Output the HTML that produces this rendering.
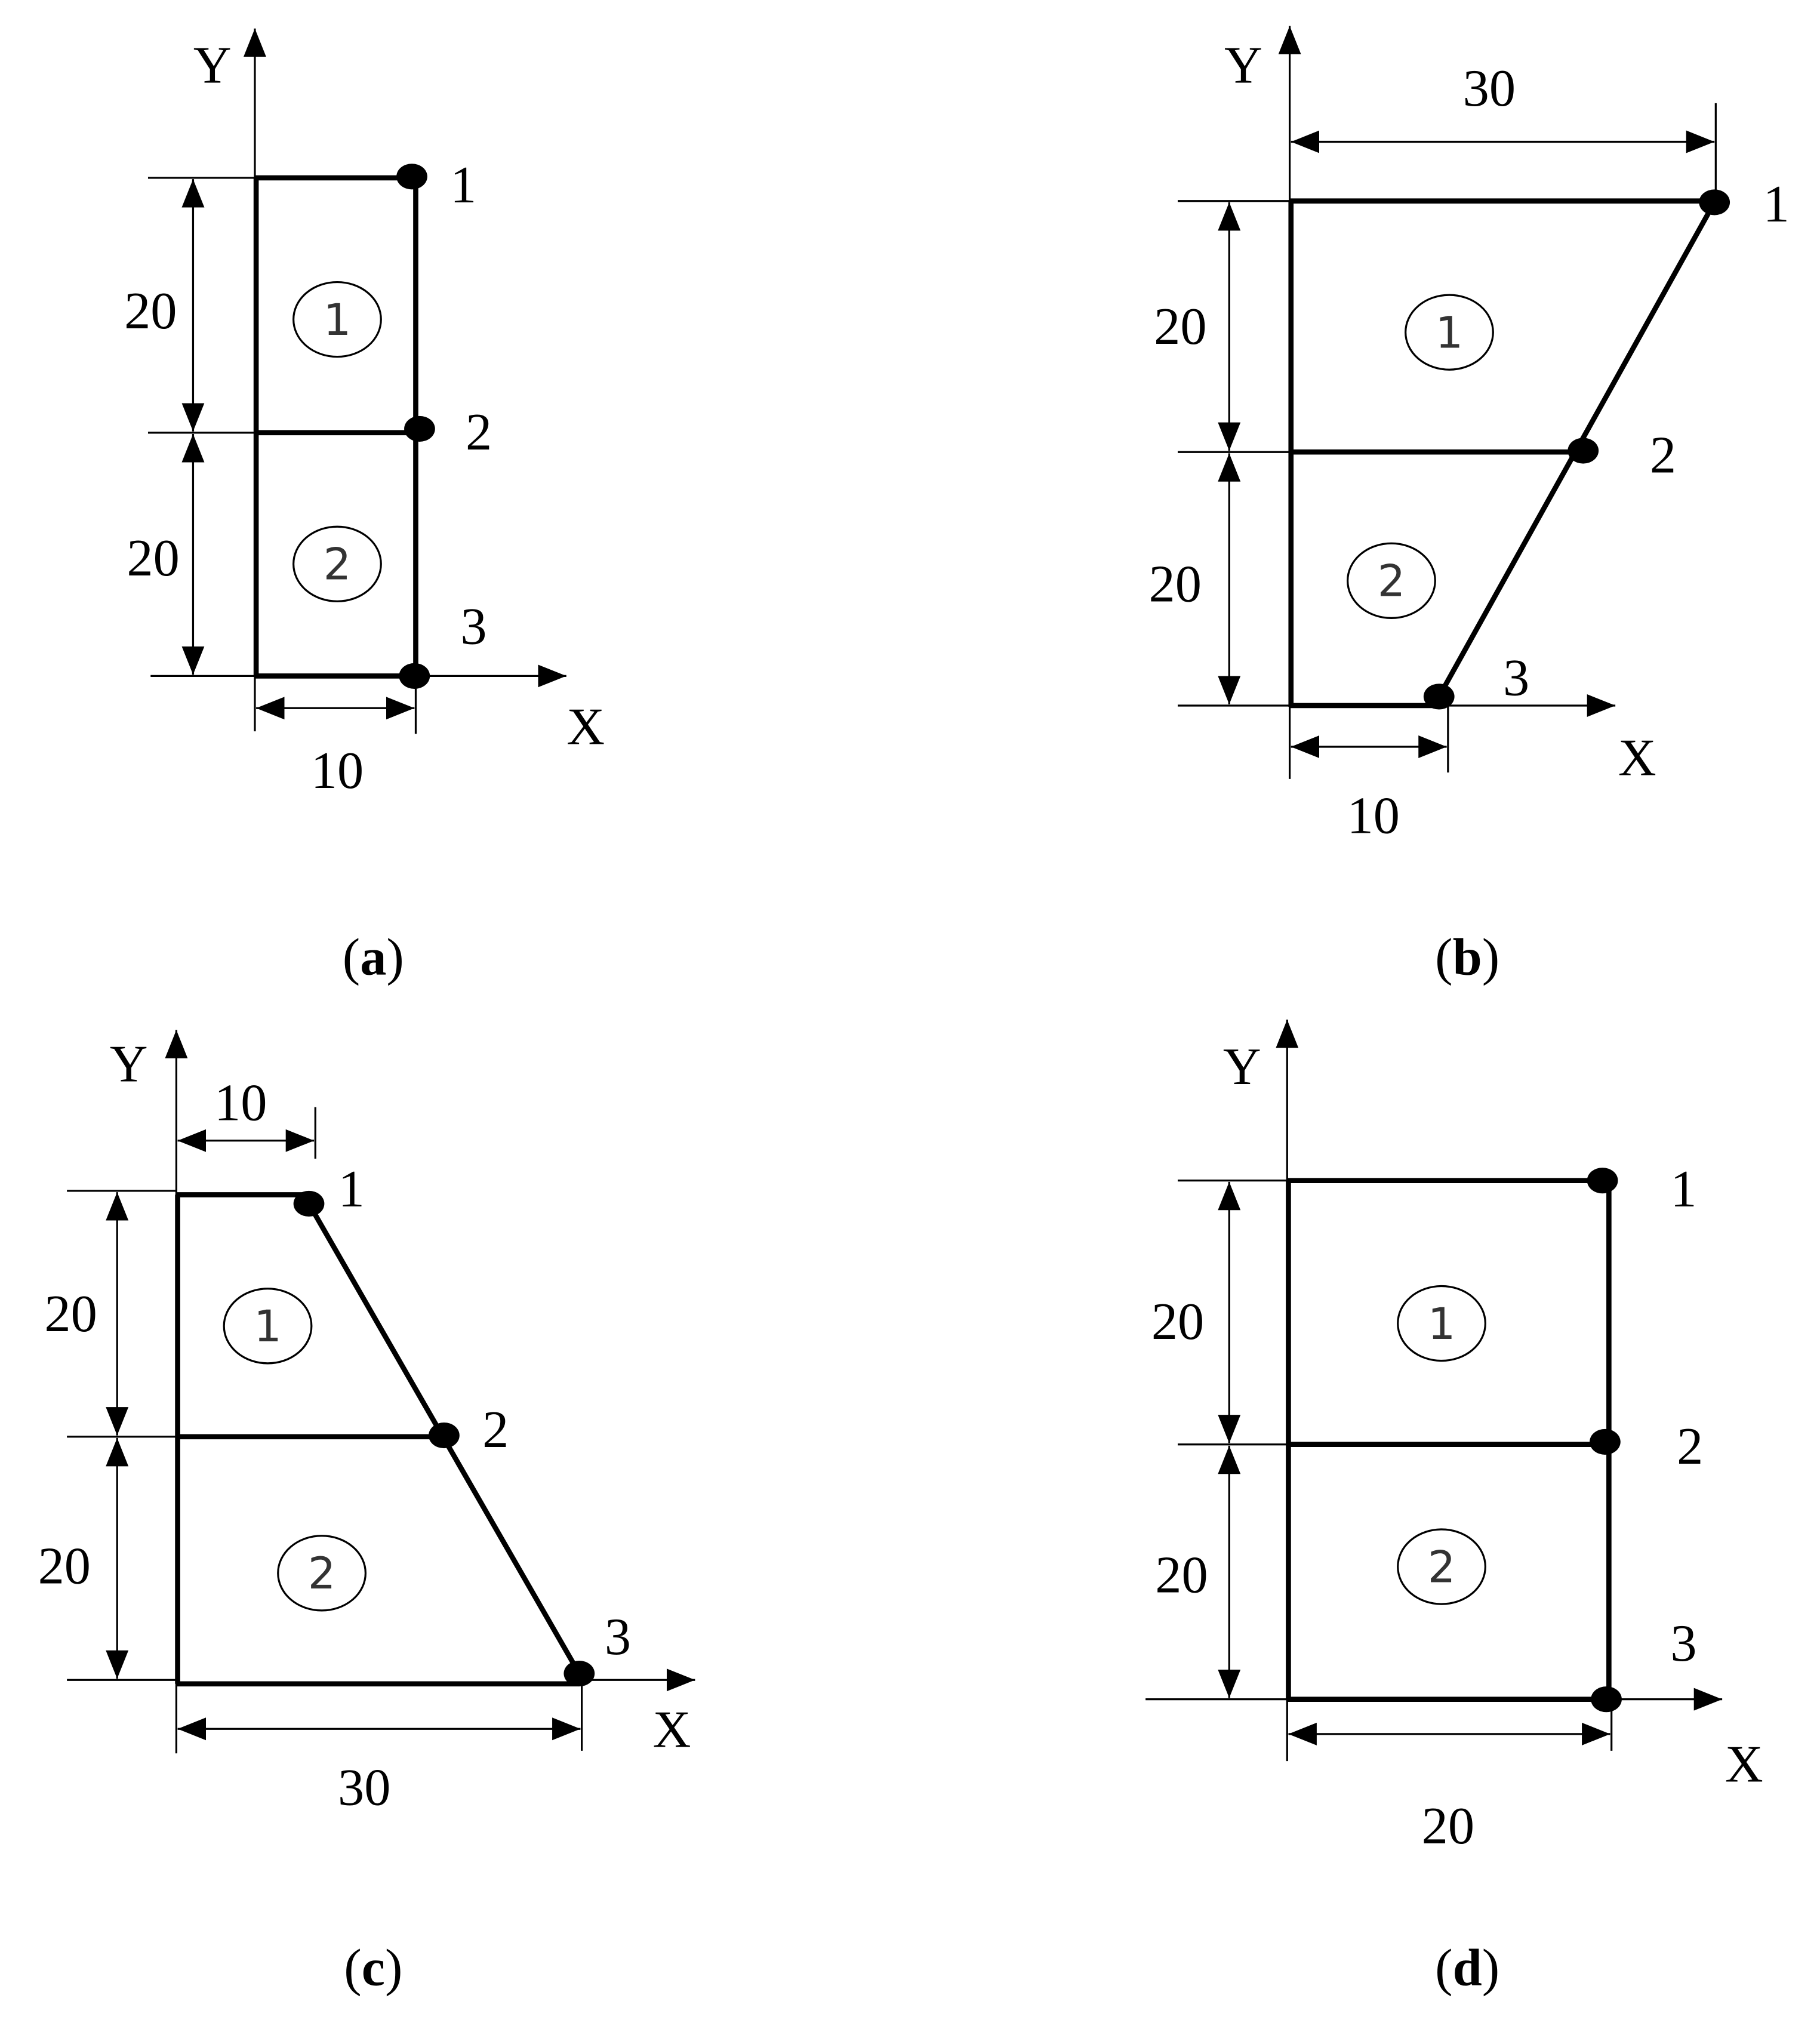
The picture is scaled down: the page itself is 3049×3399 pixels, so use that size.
<!DOCTYPE html>
<html><head><meta charset="utf-8"><style>
html,body{margin:0;padding:0;background:#fff;}
svg{display:block;}
text{font-family:"Liberation Serif",serif;fill:#000;}
.t{font-size:41px;text-anchor:middle;}
.c{font-size:34px;text-anchor:middle;fill:#333;font-family:"DejaVu Sans","Liberation Sans",sans-serif;}
</style></head><body>
<svg width="3049" height="3399" viewBox="0 0 1414 1576" xmlns="http://www.w3.org/2000/svg">
<defs>
<marker id="ar" viewBox="0 0 10 10" refX="10" refY="5" markerWidth="22" markerHeight="22" markerUnits="userSpaceOnUse" orient="auto-start-reverse"><path d="M0,1 L10,5 L0,9 z" fill="#000"/></marker>
</defs>
<g stroke="#000" fill="none">
<!-- (a) -->
<g stroke-width="1.5">
<line x1="198" y1="568" x2="198" y2="22" marker-end="url(#ar)"/>
<line x1="322" y1="525" x2="440" y2="525" marker-end="url(#ar)"/>
<line x1="115" y1="138" x2="198" y2="138"/><line x1="115" y1="336" x2="198" y2="336"/><line x1="117" y1="525" x2="198" y2="525"/>
<line x1="150" y1="139" x2="150" y2="335" marker-start="url(#ar)" marker-end="url(#ar)"/>
<line x1="150" y1="337" x2="150" y2="524" marker-start="url(#ar)" marker-end="url(#ar)"/>
<line x1="323" y1="525" x2="323" y2="570"/>
<line x1="199" y1="550" x2="322" y2="550" marker-start="url(#ar)" marker-end="url(#ar)"/>
</g>
<g stroke-width="4">
<path d="M198,138 H320 M323,137 V525 M198,336 H323 M198,525 H322 M199,138 V525"/>
</g>
<ellipse cx="262" cy="248" rx="34" ry="29" stroke-width="1.5"/>
<ellipse cx="262" cy="438" rx="34" ry="29" stroke-width="1.5"/>
<!-- (b) -->
<g stroke-width="1.5">
<line x1="1002" y1="605" x2="1002" y2="20" marker-end="url(#ar)"/>
<line x1="1118" y1="548" x2="1255" y2="548" marker-end="url(#ar)"/>
<line x1="1333" y1="80" x2="1333" y2="150"/>
<line x1="1003" y1="110" x2="1332" y2="110" marker-start="url(#ar)" marker-end="url(#ar)"/>
<line x1="915" y1="156" x2="1002" y2="156"/><line x1="915" y1="351" x2="1002" y2="351"/><line x1="915" y1="548" x2="1002" y2="548"/>
<line x1="955" y1="157" x2="955" y2="350" marker-start="url(#ar)" marker-end="url(#ar)"/>
<line x1="955" y1="352" x2="955" y2="547" marker-start="url(#ar)" marker-end="url(#ar)"/>
<line x1="1125" y1="548" x2="1125" y2="600"/>
<line x1="1003" y1="580" x2="1124" y2="580" marker-start="url(#ar)" marker-end="url(#ar)"/>
</g>
<g stroke-width="4">
<path d="M1003,156 V549 M1002,156 H1333 M1332,157 L1118,541 M1002,351 H1230 M1002,548 H1118"/>
</g>
<ellipse cx="1126" cy="258" rx="34" ry="29" stroke-width="1.5"/>
<ellipse cx="1081" cy="451" rx="34" ry="29" stroke-width="1.5"/>
<!-- (c) -->
<g stroke-width="1.5">
<line x1="137" y1="1362" x2="137" y2="800" marker-end="url(#ar)"/>
<line x1="450" y1="1305" x2="540" y2="1305" marker-end="url(#ar)"/>
<line x1="245" y1="860" x2="245" y2="900"/>
<line x1="138" y1="886" x2="244" y2="886" marker-start="url(#ar)" marker-end="url(#ar)"/>
<line x1="52" y1="925" x2="137" y2="925"/><line x1="52" y1="1116" x2="137" y2="1116"/><line x1="52" y1="1305" x2="137" y2="1305"/>
<line x1="91" y1="926" x2="91" y2="1115" marker-start="url(#ar)" marker-end="url(#ar)"/>
<line x1="91" y1="1117" x2="91" y2="1304" marker-start="url(#ar)" marker-end="url(#ar)"/>
<line x1="452" y1="1305" x2="452" y2="1360"/>
<line x1="138" y1="1343" x2="451" y2="1343" marker-start="url(#ar)" marker-end="url(#ar)"/>
</g>
<g stroke-width="4">
<path d="M138,928 V1308 M137,928 H240 M240,935 L450,1300 M137,1116 H345 M137,1308 H450"/>
</g>
<ellipse cx="208" cy="1030" rx="34" ry="29" stroke-width="1.5"/>
<ellipse cx="250" cy="1222" rx="34" ry="29" stroke-width="1.5"/>
<!-- (d) -->
<g stroke-width="1.5">
<line x1="1000" y1="1368" x2="1000" y2="792" marker-end="url(#ar)"/>
<line x1="1248" y1="1320" x2="1338" y2="1320" marker-end="url(#ar)"/>
<line x1="915" y1="917" x2="1000" y2="917"/><line x1="915" y1="1122" x2="1000" y2="1122"/><line x1="890" y1="1320" x2="1000" y2="1320"/>
<line x1="955" y1="918" x2="955" y2="1121" marker-start="url(#ar)" marker-end="url(#ar)"/>
<line x1="955" y1="1123" x2="955" y2="1319" marker-start="url(#ar)" marker-end="url(#ar)"/>
<line x1="1252" y1="1320" x2="1252" y2="1360"/>
<line x1="1001" y1="1347" x2="1251" y2="1347" marker-start="url(#ar)" marker-end="url(#ar)"/>
</g>
<g stroke-width="4">
<path d="M1001,917 V1320 M1000,917 H1245 M1250,917 V1320 M1000,1122 H1247 M1000,1320 H1248"/>
</g>
<ellipse cx="1120" cy="1028" rx="34" ry="29" stroke-width="1.5"/>
<ellipse cx="1120" cy="1217" rx="34" ry="29" stroke-width="1.5"/>
</g>
<!-- nodes -->
<g fill="#000">
<ellipse cx="320" cy="137" rx="12" ry="10"/><ellipse cx="326" cy="333" rx="12" ry="10"/><ellipse cx="322" cy="525" rx="12" ry="10"/>
<ellipse cx="1332" cy="157" rx="12" ry="10"/><ellipse cx="1230" cy="350" rx="12" ry="10"/><ellipse cx="1118" cy="541" rx="12" ry="10"/>
<ellipse cx="240" cy="935" rx="12" ry="10"/><ellipse cx="345" cy="1115" rx="12" ry="10"/><ellipse cx="450" cy="1300" rx="12" ry="10"/>
<ellipse cx="1245" cy="917" rx="12" ry="10"/><ellipse cx="1247" cy="1120" rx="12" ry="10"/><ellipse cx="1248" cy="1320" rx="12" ry="10"/>
</g>
<!-- text (a) -->
<text class="t" x="165" y="64">Y</text><text class="t" x="455" y="578">X</text>
<text class="t" x="117" y="255">20</text><text class="t" x="119" y="447">20</text>
<text class="t" x="262" y="612">10</text>
<text class="t" x="360" y="157">1</text><text class="t" x="372" y="349">2</text><text class="t" x="368" y="500">3</text>
<text class="c" x="262" y="260">1</text><text class="c" x="262" y="450">2</text>
<text class="t" x="290" y="757">(<tspan font-weight="bold">a</tspan>)</text>
<!-- text (b) -->
<text class="t" x="966" y="64">Y</text><text class="t" x="1272" y="602">X</text>
<text class="t" x="1157" y="82">30</text>
<text class="t" x="917" y="267">20</text><text class="t" x="913" y="467">20</text>
<text class="t" x="1067" y="647">10</text>
<text class="t" x="1380" y="172">1</text><text class="t" x="1292" y="367">2</text><text class="t" x="1178" y="540">3</text>
<text class="c" x="1126" y="270">1</text><text class="c" x="1081" y="463">2</text>
<text class="t" x="1140" y="757">(<tspan font-weight="bold">b</tspan>)</text>
<!-- text (c) -->
<text class="t" x="100" y="840">Y</text><text class="t" x="522" y="1357">X</text>
<text class="t" x="187" y="870">10</text>
<text class="t" x="55" y="1034">20</text><text class="t" x="50" y="1230">20</text>
<text class="t" x="283" y="1402">30</text>
<text class="t" x="273" y="937">1</text><text class="t" x="385" y="1124">2</text><text class="t" x="480" y="1285">3</text>
<text class="c" x="208" y="1042">1</text><text class="c" x="250" y="1234">2</text>
<text class="t" x="290" y="1542">(<tspan font-weight="bold">c</tspan>)</text>
<!-- text (d) -->
<text class="t" x="965" y="842">Y</text><text class="t" x="1355" y="1384">X</text>
<text class="t" x="915" y="1040">20</text><text class="t" x="918" y="1237">20</text>
<text class="t" x="1125" y="1432">20</text>
<text class="t" x="1308" y="937">1</text><text class="t" x="1313" y="1137">2</text><text class="t" x="1308" y="1290">3</text>
<text class="c" x="1120" y="1040">1</text><text class="c" x="1120" y="1229">2</text>
<text class="t" x="1140" y="1542">(<tspan font-weight="bold">d</tspan>)</text>
</svg>
</body></html>
